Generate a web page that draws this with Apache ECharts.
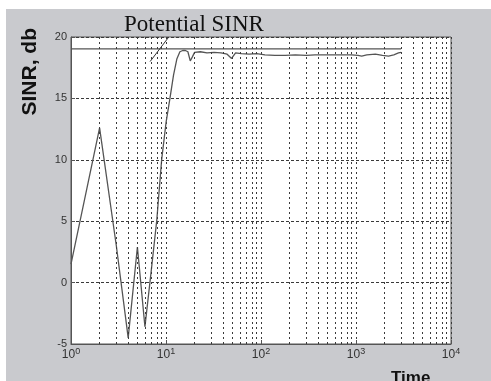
<!DOCTYPE html>
<html lang="en">
<head>
    <meta charset="UTF-8">
    <title>Potential SINR</title>
    <style>
        html, body {
            margin: 0;
            padding: 0;
            background: #fff;
        }

        #main {
            width: 491px;
            height: 381px;
        }
    </style>
</head>
<body>
<div id="main"></div>
<script src="https://cdn.jsdelivr.net/npm/echarts@6/dist/echarts.min.js"></script>
<script>
    // time steps (log axis) and measured SINR in db
    var times = [1, 2, 3, 4, 5, 6, 7, 8, 9, 10, 11, 12, 13, 14, 15, 16, 17, 18, 19, 20,
        23, 27, 32, 38, 44, 49, 54, 62, 75, 90,
        110, 140, 180, 230, 300, 370, 500, 700, 900, 1050,
        1150, 1300, 1600, 1900, 2200, 2500, 2800, 2980];
    var sinr = [1.5, 12.6, 3.0, -4.5, 2.9, -3.6, 1.0, 5.1, 10.0, 13.0,
        15.0, 16.9, 18.2, 18.8, 18.9, 18.9, 18.8, 18.05, 18.4, 18.75,
        18.8, 18.7, 18.75, 18.7, 18.6, 18.25, 18.7, 18.65, 18.6, 18.65,
        18.55, 18.5, 18.5, 18.55, 18.5, 18.55, 18.55, 18.55, 18.55, 18.5,
        18.45, 18.55, 18.6, 18.5, 18.45, 18.55, 18.7, 18.75];

    // potential SINR level
    var potentialX = [1, 2980];
    var potentialY = [19.03, 19.03];

    // pointer from the caption to the potential line
    var pointerX = [6.8, 10.7];
    var pointerY = [18.0, 20];

    var yTicks = [-5, 0, 5, 10, 15, 20];
    var minorX = [2, 3, 4, 5, 6, 7, 8, 9,
        20, 30, 40, 50, 60, 70, 80, 90,
        200, 300, 400, 500, 600, 700, 800, 900,
        2000, 3000, 4000, 5000, 6000, 7000, 8000, 9000];

    var pairs = function (xs, ys) {
        return xs.map(function (x, i) {
            return [x, ys[i]];
        });
    };

    var gridDot = {color: '#3a3a3a', width: 1, type: [2, 3]};

    var option = {
        backgroundColor: '#fff',
        animation: false,
        graphic: [
            {
                type: 'rect',
                z: -100,
                silent: true,
                shape: {x: 6, y: 9, width: 485, height: 372},
                style: {fill: '#c9cace'}
            },
            {
                type: 'text',
                left: 124,
                top: 13,
                style: {
                    text: 'Potential SINR',
                    font: '23px "Liberation Serif", "DejaVu Serif", serif',
                    fill: '#111'
                }
            },
            {
                type: 'text',
                left: 20,
                top: 28,
                rotation: Math.PI / 2,
                style: {
                    text: 'SINR, db',
                    font: 'bold 21px "Liberation Sans", Arial, sans-serif',
                    fill: '#111'
                }
            },
            {
                type: 'text',
                left: 391,
                top: 370,
                style: {
                    text: 'Time',
                    font: 'bold 17px "Liberation Sans", Arial, sans-serif',
                    fill: '#111'
                }
            }
        ],
        grid: {
            left: 71,
            right: 40,
            top: 37,
            bottom: 37,
            show: true,
            backgroundColor: '#fff',
            borderColor: '#555',
            borderWidth: 1,
            outerBoundsMode: 'none'
        },
        xAxis: {
            type: 'log',
            logBase: 10,
            min: 1,
            max: 10000,
            axisLine: {show: true, onZero: false, lineStyle: {color: '#555'}},
            axisTick: {show: true, inside: true, length: 4, lineStyle: {color: '#555'}},
            splitLine: {show: true, lineStyle: gridDot},
            axisLabel: {
                margin: 3,
                color: '#333',
                fontSize: 12,
                fontFamily: '"Liberation Sans", Arial, sans-serif',
                formatter: function (v) {
                    return '10{s|' + Math.round(Math.log10(v)) + '}';
                },
                rich: {
                    s: {fontSize: 9, verticalAlign: 'top', padding: [0, 0, 6, 0], color: '#333'}
                }
            }
        },
        yAxis: {
            type: 'value',
            min: yTicks[0],
            max: yTicks[yTicks.length - 1],
            interval: 5,
            axisLine: {show: true, onZero: false, lineStyle: {color: '#555'}},
            axisTick: {show: true, inside: true, length: 4, lineStyle: {color: '#555'}},
            splitLine: {show: true, lineStyle: {color: '#3a3a3a', width: 1, type: [3, 2]}},
            axisLabel: {
                margin: 4,
                color: '#333',
                fontSize: 11,
                fontFamily: '"Liberation Sans", Arial, sans-serif'
            }
        },
        series: [
            {
                name: 'SINR',
                type: 'line',
                data: pairs(times, sinr),
                showSymbol: false,
                lineStyle: {color: '#555', width: 1.3},
                z: 3,
                markLine: {
                    silent: true,
                    symbol: 'none',
                    label: {show: false},
                    lineStyle: gridDot,
                    data: minorX.map(function (x) {
                        return {xAxis: x};
                    })
                }
            },
            {
                name: 'Potential',
                type: 'line',
                data: pairs(potentialX, potentialY),
                showSymbol: false,
                lineStyle: {color: '#555', width: 1.3},
                z: 3
            },
            {
                name: 'pointer',
                type: 'line',
                data: pairs(pointerX, pointerY),
                showSymbol: false,
                lineStyle: {color: '#333', width: 1},
                z: 3
            }
        ]
    };

    var myChart = echarts.init(document.getElementById('main'));
    myChart.setOption(option);
</script>
</body>
</html>
